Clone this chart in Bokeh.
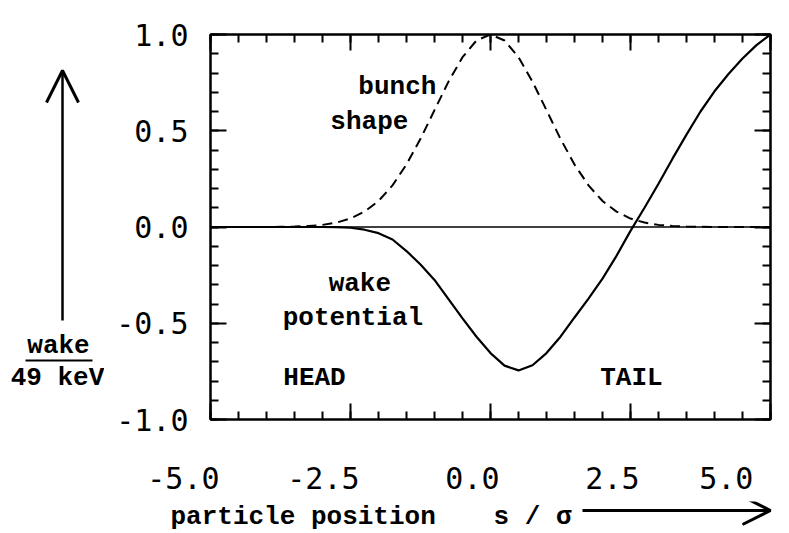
from bokeh.plotting import figure
from bokeh.layouts import row, column
from bokeh.models import (Range1d, LinearAxis, FixedTicker, Span, Label, Arrow, OpenHead,
                          CustomLabelingPolicy)
from bokeh.embed import file_html
from bokeh.resources import INLINE

# ---------------- data ----------------
s_pos = [-5.00, -4.75, -4.50, -4.25, -4.00, -3.75, -3.50, -3.25, -3.00, -2.75,
         -2.50, -2.25, -2.00, -1.75, -1.50, -1.25, -1.00, -0.75, -0.50, -0.25,
         0.00, 0.25, 0.50, 0.75, 1.00, 1.25, 1.50, 1.75, 2.00, 2.25,
         2.50, 2.75, 3.00, 3.25, 3.50, 3.75, 4.00, 4.25, 4.50, 4.75, 5.00]

bunch_shape = [0.0, 0.0, 0.0, 0.0, 0.0, 0.001, 0.002, 0.005, 0.011, 0.023,
               0.044, 0.080, 0.135, 0.216, 0.325, 0.458, 0.607, 0.755, 0.882, 0.969,
               1.000, 0.969, 0.882, 0.755, 0.607, 0.458, 0.325, 0.216, 0.135, 0.080,
               0.044, 0.023, 0.011, 0.005, 0.002, 0.001, 0.0, 0.0, 0.0, 0.0, 0.0]

wake_potential = [0.0, 0.0, 0.0, 0.0, 0.0, 0.0, 0.0, 0.0, 0.0, -0.001,
                  -0.004, -0.014, -0.032, -0.065, -0.125, -0.195, -0.275, -0.375, -0.475, -0.570,
                  -0.655, -0.720, -0.745, -0.718, -0.655, -0.570, -0.470, -0.372, -0.268, -0.150,
                  -0.020, 0.100, 0.225, 0.355, 0.480, 0.600, 0.705, 0.795, 0.875, 0.945, 1.000]

x_ticks = [-5.0, -2.5, 0.0, 2.5, 5.0]
x_tick_labels = ["-5.0", "-2.5", "0.0", "2.5", "5.0"]
x_minor = [-5.0 + 0.5 * i for i in range(21)]
y_ticks = [-1.0, -0.5, 0.0, 0.5, 1.0]
y_tick_labels = ["-1.0", "-0.5", "0.0", "0.5", "1.0"]
y_minor = [round(-1.0 + 0.1 * i, 2) for i in range(21)]

TICK_FONT = "DejaVu Sans Mono"
TEXT_FONT = "Liberation Mono"
NB = "\u00a0"

MAIN_H = 501
BF_H = 32

# ---------------- main figure ----------------
p = figure(frame_width=560, frame_height=385, output_backend="svg", toolbar_location=None,
           x_range=Range1d(-5, 5), y_range=Range1d(-1, 1),
           x_axis_location=None, y_axis_location=None,
           min_border_left=106, min_border_right=19, min_border_top=34,
           min_border_bottom=MAIN_H - 34 - 385)
p.background_fill_color = "white"
p.border_fill_color = "white"
p.outline_line_color = "black"
p.outline_line_width = 2
p.grid.visible = False

no_labels = CustomLabelingPolicy(code="for (const i of []) { yield i }")


def tick_axis(ticks, minors, labels=None, standoff=0):
    ax = LinearAxis()
    ax.ticker = FixedTicker(ticks=ticks, minor_ticks=minors)
    ax.axis_line_color = "black"
    ax.axis_line_width = 2
    ax.major_tick_in = 16
    ax.major_tick_out = 0
    ax.minor_tick_in = 8
    ax.minor_tick_out = 0
    ax.major_tick_line_width = 2
    ax.minor_tick_line_width = 2
    ax.major_tick_line_color = "black"
    ax.minor_tick_line_color = "black"
    ax.major_label_standoff = standoff
    if labels is None:
        ax.major_label_policy = no_labels
        ax.major_label_text_font_size = "1px"
    else:
        ax.major_label_overrides = {t: l for t, l in zip(ticks, labels)}
        ax.major_label_text_font = TICK_FONT
        ax.major_label_text_font_size = "30px"
        ax.major_label_text_color = "black"
    return ax


# in the original the x labels sit left of their ticks: pad with no-break spaces on the right
x_label_text = [l + NB * (3 if len(l) == 4 else 2) for l in x_tick_labels]

p.add_layout(tick_axis(x_ticks, x_minor, x_label_text, 41), "below")
p.add_layout(tick_axis(x_ticks, x_minor), "above")
p.add_layout(tick_axis(y_ticks, y_minor, y_tick_labels, 22), "left")
p.add_layout(tick_axis(y_ticks, y_minor), "right")

# zero line
p.add_layout(Span(location=0, dimension="width", line_color="black", line_width=1.5))

# curves
p.line(s_pos, bunch_shape, line_color="black", line_width=2, line_dash="10 6")
p.line(s_pos, wake_potential, line_color="black", line_width=2.2)


def lab(fig, x, y, t, align="left", size="26px"):
    fig.add_layout(Label(x=x, y=y, text=t, text_font=TEXT_FONT, text_font_size=size,
                         text_font_style="bold", text_color="black",
                         text_align=align, text_baseline="middle"))


lab(p, -2.36, 0.725, "bunch")
lab(p, -2.86, 0.543, "shape")
lab(p, -2.89, -0.294, "wake")
lab(p, -3.71, -0.475, "potential")
lab(p, -3.70, -0.782, "HEAD")
lab(p, 1.96, -0.782, "TAIL")


def blank(w, h, xr, yr):
    f = figure(width=w, height=h, output_backend="svg", toolbar_location=None,
               x_range=xr, y_range=yr, x_axis_location=None, y_axis_location=None,
               min_border=0)
    f.outline_line_color = None
    f.background_fill_color = "white"
    f.border_fill_color = "white"
    f.grid.visible = False
    return f


# ---------------- left strip: y-axis caption with arrow ----------------
# (its frame is aligned with the main frame: page y 34 .. 419)
lf = blank(104, MAIN_H, Range1d(0, 104), Range1d(419, 34))
lab(lf, 58, 345, "wake", "center")
lab(lf, 57, 377, "49 keV", "center")
lf.add_layout(Arrow(start=None, end=None, x_start=25, y_start=360, x_end=92, y_end=360,
                    line_color="black", line_width=2))
lf.add_layout(Arrow(end=OpenHead(size=32, line_width=3, line_color="black"),
                    x_start=62, y_start=320, x_end=62, y_end=70,
                    line_color="black", line_width=2.5))

# ---------------- bottom strip: x-axis caption with arrow ----------------
bf = blank(789, BF_H, Range1d(0, 789), Range1d(MAIN_H + BF_H, MAIN_H))
lab(bf, 170, 516, "particle position", "left", "26px")
lab(bf, 493, 516, "s / σ", "left", "26px")
bf.add_layout(Arrow(end=OpenHead(size=28, line_width=3, line_color="black"),
                    x_start=582, y_start=510, x_end=770, y_end=510,
                    line_color="black", line_width=3))

layout = column(row(lf, p, spacing=0), bf, spacing=0)
open("out.html", "w").write(file_html(layout, INLINE))
